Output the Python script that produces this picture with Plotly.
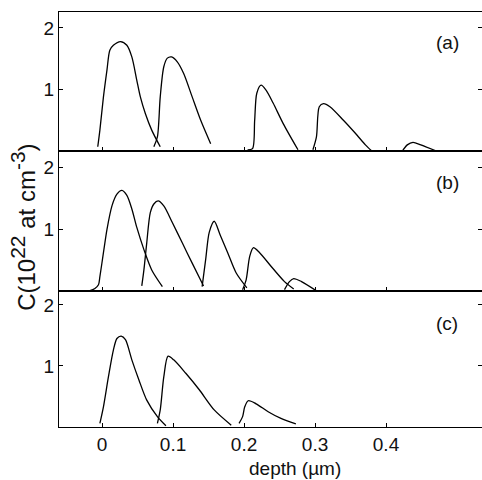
import plotly.graph_objects as go
from plotly.subplots import make_subplots

panel_a_x = [
    [-0.006, -0.003, 0.002, 0.007, 0.011, 0.016, 0.026, 0.035, 0.042, 0.049, 0.054, 0.061, 0.070, 0.082],
    [0.073, 0.078, 0.082, 0.087, 0.092, 0.098, 0.106, 0.115, 0.127, 0.139, 0.153],
    [0.205, 0.212, 0.215, 0.218, 0.224, 0.231, 0.241, 0.255, 0.276],
    [0.297, 0.302, 0.306, 0.312, 0.321, 0.340, 0.359, 0.371, 0.380],
    [0.423, 0.430, 0.438, 0.449, 0.471],
]
panel_a_y = [
    [0.07, 0.34, 0.88, 1.32, 1.64, 1.72, 1.78, 1.72, 1.53, 1.15, 0.88, 0.61, 0.34, 0.07],
    [0.07, 0.23, 0.88, 1.37, 1.51, 1.53, 1.45, 1.26, 0.88, 0.50, 0.12],
    [0.02, 0.04, 0.50, 0.94, 1.07, 0.99, 0.78, 0.45, 0.02],
    [0.02, 0.23, 0.72, 0.77, 0.72, 0.50, 0.26, 0.10, 0.0],
    [0.0, 0.10, 0.14, 0.10, 0.0],
]

panel_b_x = [
    [-0.018, -0.010, -0.005, -0.003, 0.002, 0.007, 0.014, 0.021, 0.028, 0.035, 0.042, 0.049, 0.059, 0.070, 0.085],
    [0.056, 0.059, 0.063, 0.068, 0.073, 0.079, 0.087, 0.099, 0.113, 0.127, 0.143],
    [0.141, 0.146, 0.151, 0.158, 0.167, 0.177, 0.189, 0.204],
    [0.198, 0.203, 0.208, 0.213, 0.222, 0.238, 0.257, 0.270],
    [0.257, 0.264, 0.270, 0.281, 0.302],
]
panel_b_y = [
    [0.0, 0.04, 0.10, 0.23, 0.62, 1.00, 1.38, 1.57, 1.63, 1.55, 1.33, 1.03, 0.67, 0.34, 0.07],
    [0.08, 0.34, 0.78, 1.27, 1.41, 1.46, 1.38, 1.11, 0.78, 0.45, 0.08],
    [0.07, 0.51, 0.95, 1.13, 0.89, 0.62, 0.29, 0.05],
    [0.02, 0.18, 0.56, 0.70, 0.62, 0.40, 0.15, 0.03],
    [0.02, 0.15, 0.20, 0.15, 0.0],
]

panel_c_x = [
    [-0.003, 0.002, 0.009, 0.016, 0.021, 0.027, 0.033, 0.042, 0.052, 0.063, 0.078, 0.090],
    [0.078, 0.082, 0.087, 0.093, 0.101, 0.118, 0.137, 0.158, 0.182],
    [0.193, 0.198, 0.201, 0.206, 0.217, 0.234, 0.252, 0.273],
]
panel_c_y = [
    [0.06, 0.33, 0.82, 1.26, 1.45, 1.49, 1.43, 1.10, 0.77, 0.44, 0.17, 0.02],
    [0.06, 0.28, 0.82, 1.16, 1.10, 0.88, 0.61, 0.28, 0.03],
    [0.06, 0.17, 0.33, 0.43, 0.38, 0.25, 0.14, 0.05],
]

panel_labels = ["(a)", "(b)", "(c)"]
x_ticks = [0, 0.1, 0.2, 0.3, 0.4]
y_ticks = [1, 2]

fig = make_subplots(rows=3, cols=1, shared_xaxes=True, vertical_spacing=0)

panels = [(panel_a_x, panel_a_y), (panel_b_x, panel_b_y), (panel_c_x, panel_c_y)]
for row, (xs, ys) in enumerate(panels, start=1):
    for px_, py_ in zip(xs, ys):
        fig.add_trace(go.Scatter(x=px_, y=py_, mode="lines",
                                 line=dict(color="black", width=1.3, shape="spline", smoothing=0.8),
                                 showlegend=False, hoverinfo="skip"), row=row, col=1)

font = dict(family="Liberation Sans", size=19, color="#111")

# plot area is 423 x 415 px; panel heights 139 / 140 / 136 px
fig.update_layout(
    width=482, height=480,
    margin=dict(l=59, r=0, t=12, b=53),
    plot_bgcolor="white", paper_bgcolor="white",
    font=font,
    yaxis=dict(domain=[0.665, 1.0], range=[0, 2.26]),
    yaxis2=dict(domain=[0.328, 0.665], range=[0, 2.27]),
    yaxis3=dict(domain=[0.0, 0.328], range=[0, 2.23]),
)

fig.update_xaxes(range=[-0.0606, 0.5352], tickvals=x_ticks, ticks="inside", ticklen=4,
                 showline=True, linecolor="black", linewidth=1.1, mirror=True,
                 showgrid=False, zeroline=False, tickcolor="black")
fig.update_xaxes(ticktext=["0", "0.1", "0.2", "0.3", "0.4"], row=3, col=1)
fig.update_yaxes(tickvals=y_ticks, ticks="inside", ticklen=4, mirror="ticks",
                 showline=True, linecolor="black", linewidth=1.1,
                 showgrid=False, zeroline=False, tickcolor="black")

label_y = [1.76, 1.76, 1.70]
for i, lab in enumerate(panel_labels):
    fig.add_annotation(text=lab, x=0.486, y=label_y[i], xref=f"x{i + 1 if i else ''}",
                       yref=f"y{i + 1 if i else ''}", showarrow=False, font=font)

fig.add_annotation(text="depth (\u00b5m)", x=0.558, y=-0.1, xref="paper", yref="paper",
                   showarrow=False, font=font, yanchor="middle")
sup = "<sup><span style='font-size:21px'>{}</span></sup>"
fig.add_annotation(text="C(10" + sup.format("22") + " at cm" + sup.format("-3") + ")",
                   x=-0.085, y=0.48,
                   xref="paper", yref="paper", textangle=-90, showarrow=False,
                   font=dict(family="Liberation Sans", size=24, color="#111"),
                   xanchor="center", yanchor="middle")

# drop the default page margin so the figure sits at the window's corner
fig.write_html("out.html", config={"displayModeBar": False},
               post_script="document.body.style.margin='0';")
